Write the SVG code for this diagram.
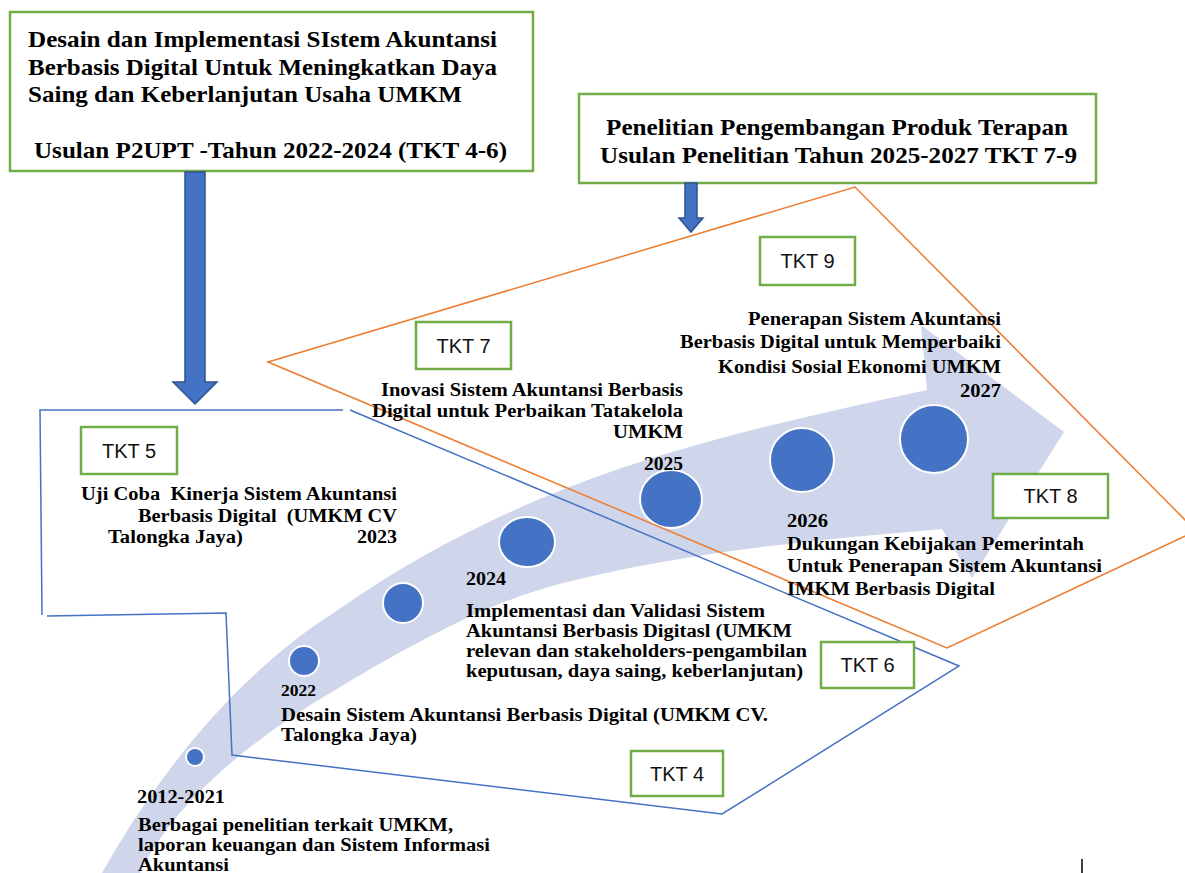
<svg xmlns="http://www.w3.org/2000/svg" width="1185" height="873" viewBox="0 0 1185 873">
<defs>
<style>
.t{font-family:"Liberation Serif","Times New Roman",serif;font-weight:bold;fill:#000;white-space:pre}
.h{font-size:23px}
.b{font-size:18.5px}
.e{text-anchor:end}
.m{text-anchor:middle}
.box{fill:#fff;stroke:#70AD47;stroke-width:2.5}
.tk{font-family:"Liberation Sans",Arial,sans-serif;font-size:20px;fill:#111;text-anchor:middle}
.dot{fill:#4472C4;stroke:#fff;stroke-width:2}
.ol{fill:none;stroke:#ED7D31;stroke-width:1.5}
.bl{fill:none;stroke:#4472C4;stroke-width:1.5}
.arw{fill:#4472C4;stroke:#2F528F;stroke-width:1.5}
</style>
</defs>
<rect width="1185" height="873" fill="#fff"/>

<g id="timeline-arrow">
<path d="M102,873 C160,770 240,672 335,612 C535,472 727,434 927,390 L921,325 L1064,432 L972,578 L942,529 C816,540 689,551 563,583 C487,602 411,645 335,690 C255,737 175,800 140,873 Z" fill="#CFD5EA"/>
<ellipse class="dot" cx="195" cy="757" rx="9" ry="9"/>
<ellipse class="dot" cx="304" cy="661" rx="15" ry="15"/>
<ellipse class="dot" cx="403" cy="603" rx="20" ry="20"/>
<ellipse class="dot" cx="527" cy="542" rx="28" ry="25"/>
<ellipse class="dot" cx="671" cy="499" rx="31" ry="29"/>
<ellipse class="dot" cx="802" cy="460" rx="32" ry="32"/>
<ellipse class="dot" cx="934" cy="439" rx="34" ry="34"/>
</g>

<g id="region-tkt4-6">
<path class="bl" d="M343,410 L40,410 L42,615 M47,616 L226,613 L232,755 L722,814 L959,666 L350,410"/>
</g>
<g id="region-tkt7-9">
<path class="ol" d="M268,362 L855,187 L1196,531 L947,648 Z"/>
</g>

<g id="title-left">
<rect class="box" x="10" y="12" width="523" height="159"/>
<text class="t h" x="28" y="47" textLength="469" lengthAdjust="spacingAndGlyphs">Desain dan Implementasi SIstem Akuntansi</text>
<text class="t h" x="28" y="75" textLength="469" lengthAdjust="spacingAndGlyphs">Berbasis Digital Untuk Meningkatkan Daya</text>
<text class="t h" x="28" y="102" textLength="434" lengthAdjust="spacingAndGlyphs">Saing dan Keberlanjutan Usaha UMKM</text>
<text class="t h" x="34" y="158" textLength="473" lengthAdjust="spacingAndGlyphs">Usulan P2UPT -Tahun 2022-2024 (TKT 4-6)</text>
</g>

<g id="title-right">
<rect class="box" x="579" y="94" width="517" height="89"/>
<text class="t h" x="606" y="135" textLength="462" lengthAdjust="spacingAndGlyphs">Penelitian Pengembangan Produk Terapan</text>
<text class="t h" x="600" y="163" textLength="477" lengthAdjust="spacingAndGlyphs">Usulan Penelitian Tahun 2025-2027 TKT 7-9</text>
</g>

<g id="connectors">
<path class="arw" d="M185,172 L205,172 L205,382 L217,382 L195,404 L173,382 L185,382 Z"/>
<path class="arw" d="M685,183 L697,183 L697,218 L703,218 L691,232 L679,218 L685,218 Z"/>
</g>

<g id="tkt5"><rect class="box" x="81" y="427" width="96" height="47"/><text class="tk" x="129" y="458">TKT 5</text></g>
<g id="tkt7"><rect class="box" x="416" y="322" width="95" height="47"/><text class="tk" x="463.5" y="353">TKT 7</text></g>
<g id="tkt9"><rect class="box" x="760" y="237" width="95" height="48"/><text class="tk" x="807.5" y="268">TKT 9</text></g>
<g id="tkt8"><rect class="box" x="993" y="474" width="115" height="44"/><text class="tk" x="1050.5" y="503">TKT 8</text></g>
<g id="tkt6"><rect class="box" x="821" y="642" width="93" height="46"/><text class="tk" x="867.5" y="672">TKT 6</text></g>
<g id="tkt4"><rect class="box" x="631" y="751" width="92" height="45"/><text class="tk" x="677" y="781">TKT 4</text></g>

<g id="milestone-2012">
<text class="t b" x="137" y="803" textLength="88" lengthAdjust="spacingAndGlyphs">2012-2021</text>
<text class="t b" x="138" y="831" textLength="315" lengthAdjust="spacingAndGlyphs">Berbagai penelitian terkait UMKM,</text>
<text class="t b" x="138" y="851" textLength="352" lengthAdjust="spacingAndGlyphs">laporan keuangan dan Sistem Informasi</text>
<text class="t b" x="138" y="871" textLength="91" lengthAdjust="spacingAndGlyphs">Akuntansi</text>
</g>

<g id="milestone-2022">
<text class="t" x="281" y="696" font-size="16" textLength="35" lengthAdjust="spacingAndGlyphs">2022</text>
<text class="t b" x="281" y="721" textLength="487" lengthAdjust="spacingAndGlyphs">Desain Sistem Akuntansi Berbasis Digital (UMKM CV.</text>
<text class="t b" x="281" y="741" textLength="136" lengthAdjust="spacingAndGlyphs">Talongka Jaya)</text>
</g>

<g id="milestone-2023">
<text class="t b" x="81" y="500" textLength="316" lengthAdjust="spacingAndGlyphs">Uji Coba  Kinerja Sistem Akuntansi</text>
<text class="t b e" x="397" y="522" textLength="259" lengthAdjust="spacingAndGlyphs">Berbasis Digital  (UMKM CV</text>
<text class="t b" x="108" y="543" textLength="135" lengthAdjust="spacingAndGlyphs">Talongka Jaya)</text>
<text class="t b e" x="397" y="543" textLength="40" lengthAdjust="spacingAndGlyphs">2023</text>
</g>

<g id="milestone-2024">
<text class="t b" x="466" y="585" textLength="40" lengthAdjust="spacingAndGlyphs">2024</text>
<text class="t b" x="466" y="617" textLength="299" lengthAdjust="spacingAndGlyphs">Implementasi dan Validasi Sistem</text>
<text class="t b" x="466" y="637" textLength="326" lengthAdjust="spacingAndGlyphs">Akuntansi Berbasis Digitasl (UMKM</text>
<text class="t b" x="466" y="657" textLength="341" lengthAdjust="spacingAndGlyphs">relevan dan stakeholders-pengambilan</text>
<text class="t b" x="466" y="677" textLength="337" lengthAdjust="spacingAndGlyphs">keputusan, daya saing, keberlanjutan)</text>
</g>

<g id="milestone-2025">
<text class="t b e" x="683" y="396" textLength="302" lengthAdjust="spacingAndGlyphs">Inovasi Sistem Akuntansi Berbasis</text>
<text class="t b e" x="683" y="417" textLength="311" lengthAdjust="spacingAndGlyphs">Digital untuk Perbaikan Tatakelola</text>
<text class="t b e" x="683" y="438" textLength="70" lengthAdjust="spacingAndGlyphs">UMKM</text>
<text class="t b e" x="683" y="470" textLength="39" lengthAdjust="spacingAndGlyphs">2025</text>
</g>

<g id="milestone-2026">
<text class="t b" x="787" y="527" textLength="41" lengthAdjust="spacingAndGlyphs">2026</text>
<text class="t b" x="787" y="550" textLength="297" lengthAdjust="spacingAndGlyphs">Dukungan Kebijakan Pemerintah</text>
<text class="t b" x="787" y="572" textLength="315" lengthAdjust="spacingAndGlyphs">Untuk Penerapan Sistem Akuntansi</text>
<text class="t b" x="787" y="595" textLength="208" lengthAdjust="spacingAndGlyphs">IMKM Berbasis Digital</text>
</g>

<g id="milestone-2027">
<text class="t b e" x="1001" y="325" textLength="253" lengthAdjust="spacingAndGlyphs">Penerapan Sistem Akuntansi</text>
<text class="t b e" x="1001" y="348" textLength="321" lengthAdjust="spacingAndGlyphs">Berbasis Digital untuk Memperbaiki</text>
<text class="t b e" x="1001" y="373" textLength="283" lengthAdjust="spacingAndGlyphs">Kondisi Sosial Ekonomi UMKM</text>
<text class="t b e" x="1001" y="397" textLength="41" lengthAdjust="spacingAndGlyphs">2027</text>
</g>

<line x1="1082" y1="859" x2="1082" y2="873" stroke="#000" stroke-width="1.5"/>
</svg>
